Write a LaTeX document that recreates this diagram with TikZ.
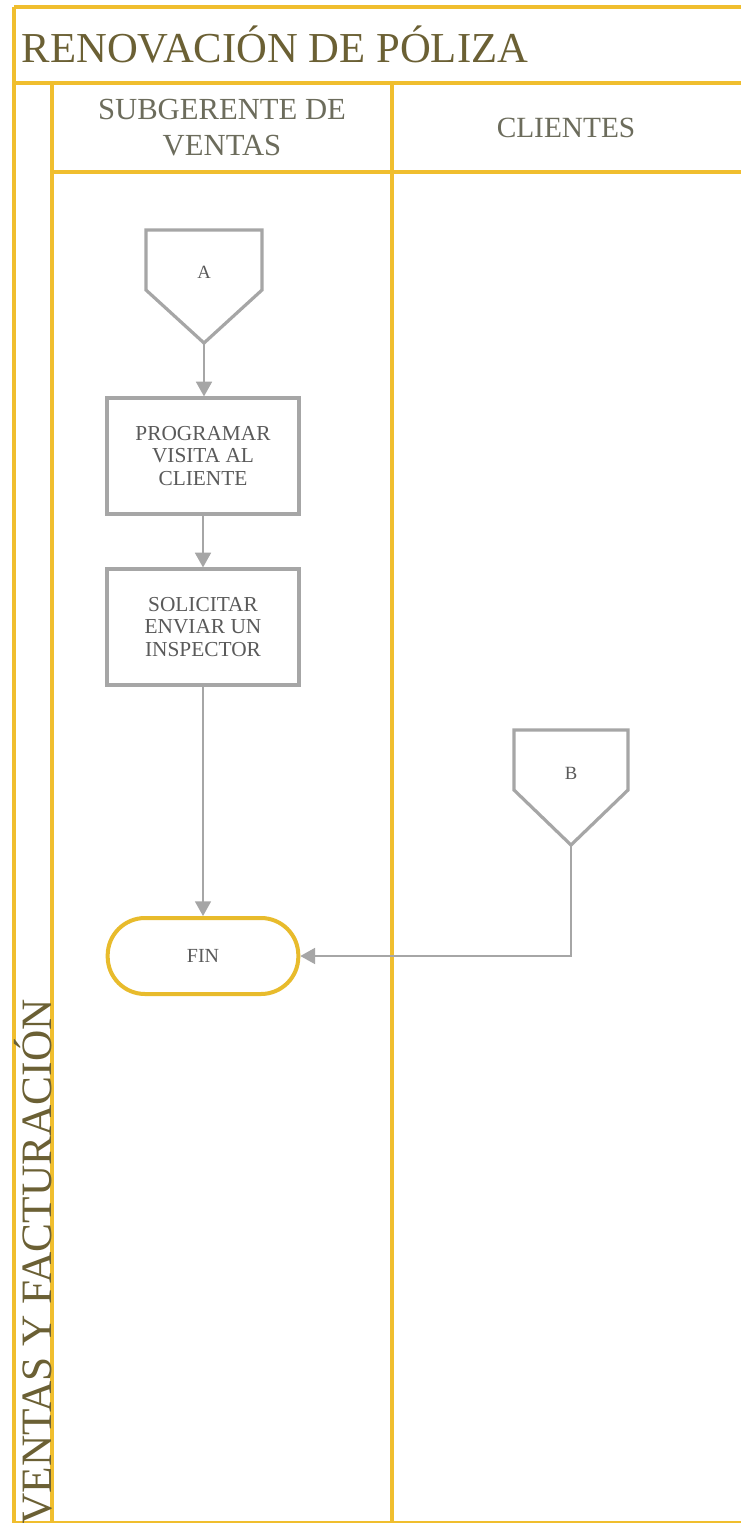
\documentclass[tikz,border=0pt]{standalone}
\usepackage{fontspec}
\setmainfont{Liberation Serif}
\usetikzlibrary{arrows.meta}
\definecolor{lane}{HTML}{F0BE2E}
\definecolor{finline}{HTML}{E8BB2C}
\definecolor{shapegray}{HTML}{A6A6A6}
\definecolor{titletext}{HTML}{6B6034}
\definecolor{headtext}{HTML}{6C6C5C}
\definecolor{boxtext}{HTML}{5A5A5A}
\tikzset{
  laneline/.style={draw=lane,line width=3pt},
  process/.style={draw=shapegray,line width=2.4pt,fill=white,minimum width=144pt,
    minimum height=87pt,align=center,text=boxtext,font=\fontsize{16}{17}\selectfont},
  terminal/.style={draw=finline,line width=3pt,fill=white,rounded corners=28pt,
    minimum width=143pt,minimum height=57pt,text=boxtext,font=\fontsize{15}{17}\selectfont},
  offpage/.style={draw=shapegray,line width=2.4pt,fill=white,line join=miter},
  offlabel/.style={text=boxtext,font=\fontsize{14}{16}\selectfont},
  flow/.style={draw=shapegray,line width=1.1pt,-{Triangle[length=11pt,width=12pt]}},
  headlabel/.style={text=headtext,align=center,font=\fontsize{23}{27}\selectfont},
}
\begin{document}
\begin{tikzpicture}[x=0.75pt,y=-0.75pt]
\useasboundingbox (0,0) rectangle (741,1523);
\fill[white] (0,0) rectangle (741,1523);

% pool and lane frame
\draw[laneline] (14,7) -- (745,7);
\draw[laneline] (14,7) -- (14,1527);
\draw[laneline] (14,83) -- (745,83);
\draw[laneline] (52,83) -- (52,1527);
\draw[laneline] (52,172) -- (745,172);
\draw[laneline] (392,83) -- (392,1527);
\draw[laneline] (14,1523) -- (745,1523);

% titles
\node[anchor=west,text=titletext,font=\fontsize{32}{36}\selectfont] (title) at (17,45) {RENOVACIÓN DE PÓLIZA};
\node[rotate=90,text=titletext,font=\fontsize{32.5}{36}\selectfont] (pool) at (33,1262) {VENTAS Y FACTURACIÓN};
\node[headlabel] (lane1) at (222,128) {SUBGERENTE DE\\VENTAS};
\node[headlabel,font=\fontsize{22}{27}\selectfont] (lane2) at (566,128) {CLIENTES};

% off-page connector A
\draw[offpage] (146,230) -- (262,230) -- (262,290) -- (204,343) -- (146,290) -- cycle;
\node[offlabel] (A) at (204,272) {A};
\coordinate (Atip) at (204,343);

% off-page connector B
\draw[offpage] (514,730) -- (628,730) -- (628,790) -- (571,845) -- (514,790) -- cycle;
\node[offlabel] (B) at (571,773) {B};
\coordinate (Btip) at (571,845);

% activities
\node[process] (p1) at (203,456) {PROGRAMAR\\VISITA AL\\CLIENTE};
\node[process] (p2) at (203,627) {SOLICITAR\\ENVIAR UN\\INSPECTOR};
\node[terminal] (fin) at (203,956) {FIN};

% flow
\draw[flow] (Atip) -- (Atip |- p1.north);
\draw[flow] (p1.south) -- (p2.north);
\draw[flow] (p2.south) -- (fin.north);
\draw[flow] (Btip) |- (fin.east);
\end{tikzpicture}
\end{document}
